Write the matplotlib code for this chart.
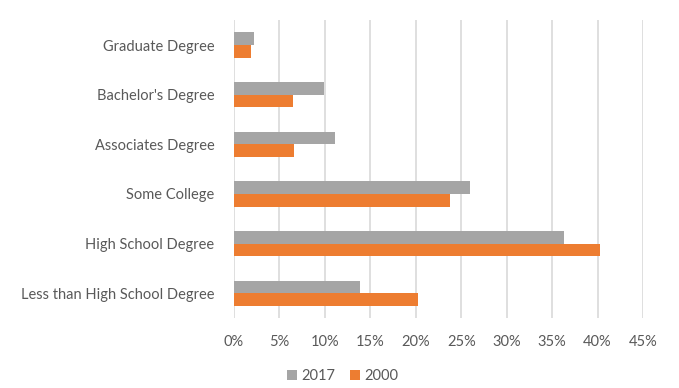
import numpy as np
import matplotlib.pyplot as plt
from matplotlib.ticker import PercentFormatter

categories = ['Graduate Degree', "Bachelor's Degree", 'Associates Degree',
              'Some College', 'High School Degree', 'Less than High School Degree']
share_2017 = [0.022, 0.099, 0.111, 0.260, 0.363, 0.139]
share_2000 = [0.019, 0.065, 0.066, 0.238, 0.403, 0.202]

plt.rcParams['font.family'] = ['Lato', 'DejaVu Sans']
text_color = '#595959'

fig = plt.figure(figsize=(6.79, 3.88), dpi=100)
ax = fig.add_axes([0.3446, 0.180, 0.6024, 0.768])

y = np.arange(len(categories))
h = 0.255
ax.barh(y - h / 2, share_2017, height=h, color='#A5A5A5', label='2017', zorder=3)
ax.barh(y + h / 2, share_2000, height=h, color='#ED7D31', label='2000', zorder=3)

ax.set_ylim(len(categories) - 0.5, -0.5)
ax.set_yticks(y)
ax.set_yticklabels(categories, fontsize=10.5, color=text_color)

ax.set_xlim(0, 0.45)
ax.set_xticks(np.arange(0, 0.451, 0.05))
ax.xaxis.set_major_formatter(PercentFormatter(1.0, decimals=0))
ax.tick_params(axis='x', labelsize=10.5, labelcolor=text_color, pad=12)
ax.tick_params(length=0)
ax.tick_params(axis='y', pad=14)

ax.grid(axis='x', color='#D9D9D9', linewidth=1.2, zorder=0)
for s in ax.spines.values():
    s.set_visible(False)

fig.legend(loc='center', bbox_to_anchor=(0.505, 0.03), ncol=2, frameon=False,
           fontsize=10.5, labelcolor=text_color, handlelength=0.7, handleheight=0.7,
           handletextpad=0.3, columnspacing=1.0)

fig.savefig('out.png', dpi=100)
